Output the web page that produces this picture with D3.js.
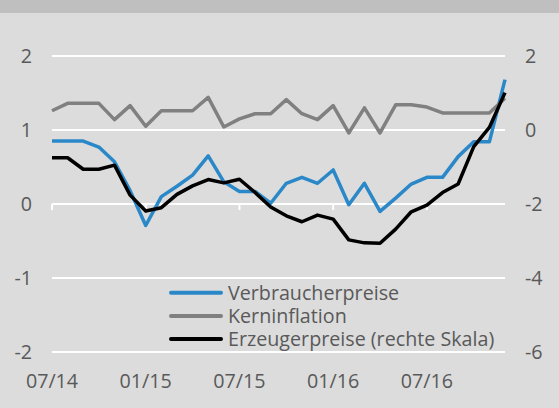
<!DOCTYPE html>
<html lang="de">
<head>
<meta charset="utf-8">
<title>Verbraucherpreise, Kerninflation, Erzeugerpreise</title>
<script src="https://d3js.org/d3.v7.min.js"></script>
<style>
  body { margin: 0; padding: 0; background: #dcdcdc; }
  svg text { font-family: 'Open Sans', sans-serif; fill: #595959; }
</style>
</head>
<body>
<div id="chart"></div>
<script>
// monthly values, 07/14 .. 12/16
var months = ["07/14","08/14","09/14","10/14","11/14","12/14",
              "01/15","02/15","03/15","04/15","05/15","06/15",
              "07/15","08/15","09/15","10/15","11/15","12/15",
              "01/16","02/16","03/16","04/16","05/16","06/16",
              "07/16","08/16","09/16","10/16","11/16","12/16"];

var verbraucherpreise = [0.85,0.85,0.85,0.77,0.57,0.18,-0.29,0.10,0.24,0.39,
                         0.65,0.30,0.17,0.17,0.01,0.28,0.36,0.28,0.46,-0.01,
                         0.28,-0.10,0.08,0.27,0.36,0.36,0.64,0.84,0.84,1.68];

var kerninflation = [1.26,1.36,1.36,1.36,1.14,1.33,1.05,1.26,1.26,1.26,
                     1.44,1.04,1.15,1.22,1.22,1.41,1.22,1.14,1.33,0.96,
                     1.30,0.96,1.34,1.34,1.31,1.23,1.23,1.23,1.23,1.43];

// right scale
var erzeugerpreise = [-0.75,-0.75,-1.06,-1.06,-0.95,-1.76,-2.19,-2.10,-1.74,-1.51,
                      -1.34,-1.43,-1.33,-1.69,-2.08,-2.32,-2.48,-2.30,-2.41,-2.97,
                      -3.05,-3.06,-2.68,-2.21,-2.03,-1.69,-1.46,-0.45,0.07,1.01];

var leftTicks = [2, 1, 0, -1, -2];
var rightTicks = [2, 0, -2, -4, -6];
var xLabels = ["07/14","01/15","07/15","01/16","07/16"];

var width = 559, height = 408;
var fontSize = "19.7px";

var svg = d3.select("#chart").append("svg")
    .attr("width", width)
    .attr("height", height);

svg.append("rect")
    .attr("width", width).attr("height", height)
    .attr("fill", "#dcdcdc");

// top band
svg.append("rect")
    .attr("width", width).attr("height", 13)
    .attr("fill", "#bfbfbf");

var x = d3.scaleLinear().domain([0, months.length - 1]).range([52, 505]);
var yL = d3.scaleLinear().domain([-2, 2]).range([352, 56]);
var yR = d3.scaleLinear().domain([-6, 2]).range([352, 56]);

// gridlines
svg.append("g")
  .selectAll("line")
  .data(leftTicks)
  .enter().append("line")
    .attr("x1", 52).attr("x2", 505)
    .attr("y1", function(d) { return yL(d); })
    .attr("y2", function(d) { return yL(d); })
    .attr("stroke", "#fff")
    .attr("stroke-width", 2);

// x ticks on the zero line
svg.append("g")
  .selectAll("line")
  .data(xLabels)
  .enter().append("line")
    .attr("x1", function(d) { return x(months.indexOf(d)); })
    .attr("x2", function(d) { return x(months.indexOf(d)); })
    .attr("y1", yL(0))
    .attr("y2", yL(0) + 6)
    .attr("stroke", "#fff")
    .attr("stroke-width", 2);

// left axis labels
svg.append("g")
  .selectAll("text")
  .data(leftTicks)
  .enter().append("text")
    .attr("x", 32)
    .attr("y", function(d) { return yL(d); })
    .attr("dy", "0.36em")
    .attr("text-anchor", "end")
    .style("font-size", fontSize)
    .text(function(d) { return d; });

// right axis labels
svg.append("g")
  .selectAll("text")
  .data(rightTicks)
  .enter().append("text")
    .attr("x", 525)
    .attr("y", function(d) { return yR(d); })
    .attr("dy", "0.36em")
    .attr("text-anchor", "start")
    .style("font-size", fontSize)
    .text(function(d) { return d; });

// x labels
svg.append("g")
  .selectAll("text")
  .data(xLabels)
  .enter().append("text")
    .attr("x", function(d) { return x(months.indexOf(d)); })
    .attr("y", 388)
    .attr("text-anchor", "middle")
    .style("font-size", fontSize)
    .text(function(d) { return d; });

var lineL = d3.line()
    .x(function(d, i) { return x(i); })
    .y(function(d) { return yL(d); });

var lineR = d3.line()
    .x(function(d, i) { return x(i); })
    .y(function(d) { return yR(d); });

var series = [
  {name: "Verbraucherpreise", values: verbraucherpreise, line: lineL, color: "#2b88c8"},
  {name: "Kerninflation", values: kerninflation, line: lineL, color: "#808080"},
  {name: "Erzeugerpreise (rechte Skala)", values: erzeugerpreise, line: lineR, color: "#000000"}
];

series.forEach(function(s) {
  svg.append("path")
    .datum(s.values)
    .attr("d", s.line)
    .attr("fill", "none")
    .attr("stroke", s.color)
    .attr("stroke-width", 3.5)
    .attr("stroke-linejoin", "round");
});

// legend
var legend = svg.append("g");
series.forEach(function(s, i) {
  var ly = 292.7 + i * 23.2;
  legend.append("line")
    .attr("x1", 171).attr("x2", 221)
    .attr("y1", ly).attr("y2", ly)
    .attr("stroke", s.color)
    .attr("stroke-width", 4)
    .attr("stroke-linecap", "round");
  legend.append("text")
    .attr("x", 228)
    .attr("y", ly + 7.3)
    .style("font-size", fontSize)
    .text(s.name);
});
</script>
</body>
</html>
